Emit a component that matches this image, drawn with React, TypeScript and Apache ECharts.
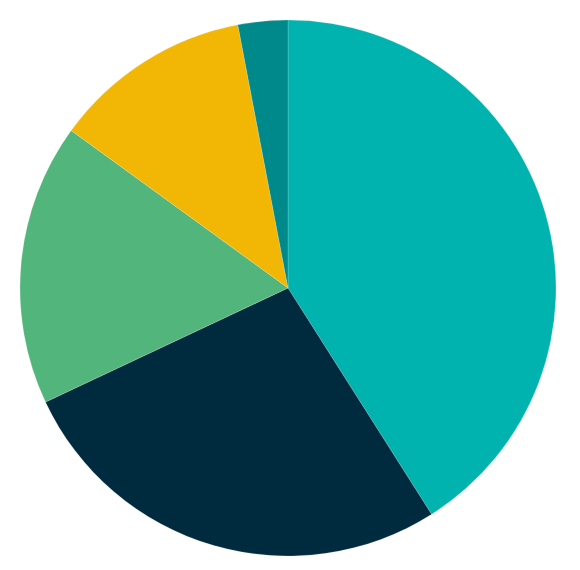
import React, { useEffect, useRef } from "react";
import * as echarts from "echarts";

const categories = ["A", "B", "C", "D", "E"];
const values = [41, 27, 17, 12, 3];
const colors = ["#00B3AE", "#002B3F", "#52B57B", "#F2B705", "#00898B"];

export default function App() {
  const ref = useRef<HTMLDivElement>(null);
  useEffect(() => {
    if (!ref.current) return;
    const chart = echarts.init(ref.current, undefined, { renderer: "svg" });
    chart.setOption({
      animation: false,
      backgroundColor: "#ffffff",
      series: [
        {
          type: "pie",
          center: [280, 280],
          radius: [0, 268],
          startAngle: 90,
          clockwise: true,
          label: { show: false },
          labelLine: { show: false },
          emphasis: { disabled: true },
          itemStyle: { borderColor: "rgba(255,255,255,0.35)", borderWidth: 0.5 },
          data: categories.map((c, i) => ({
            name: c,
            value: values[i],
            itemStyle: { color: colors[i] },
          })),
        },
      ],
    });
    return () => chart.dispose();
  }, []);
  return <div ref={ref} style={{ width: 564, height: 554 }} />;
}
